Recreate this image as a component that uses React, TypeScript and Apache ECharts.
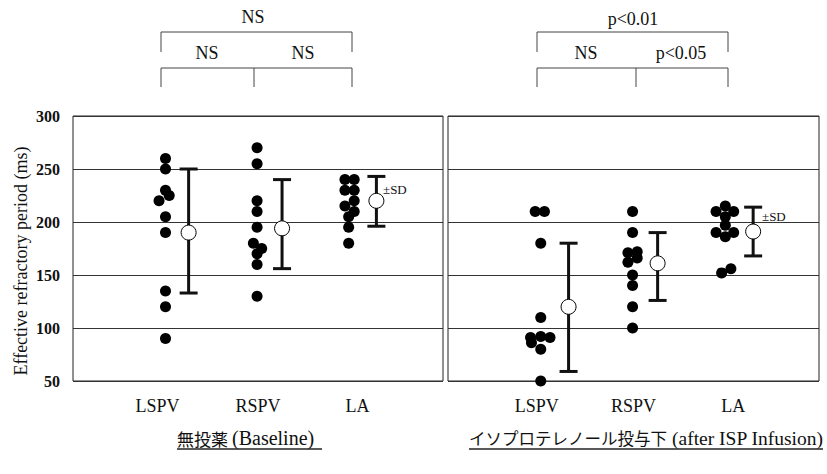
import React, { useEffect, useRef } from 'react';
import * as echarts from 'echarts';

// ---------- data ----------
const categories = ['LSPV', 'RSPV', 'LA'];
const categoryPositions = [1, 2, 3];

// Baseline (無投薬) individual values (ms) and horizontal jitter (category units)
const baseLSPV = [260, 250, 230, 220, 225, 205, 190, 135, 120, 90];
const baseLSPVJitter = [0, 0, 0, -0.07, 0.04, 0, 0, 0, 0, 0];
const baseRSPV = [270, 255, 220, 210, 195, 180, 175, 170, 160, 130];
const baseRSPVJitter = [-0.01, -0.01, -0.01, -0.01, -0.01, -0.05, 0.04, -0.01, -0.01, -0.01];
const baseLA = [240, 240, 230, 230, 220, 215, 210, 205, 195, 180];
const baseLAJitter = [-0.06, 0.04, -0.06, 0.04, 0.04, -0.06, 0.04, -0.02, -0.02, -0.02];

const baseMean = [190, 194, 220];
const baseSDLow = [133, 156, 196];
const baseSDHigh = [250, 240, 243];
const baseMeanOffset = [0.25, 0.26, 0.28];

// After ISP infusion (イソプロテレノール投与下)
const ispLSPV = [210, 210, 180, 110, 91, 92, 91, 86, 80, 50];
const ispLSPVJitter = [-0.06, 0.04, 0, 0, -0.11, 0, 0.1, -0.1, 0, 0];
const ispRSPV = [210, 190, 171, 172, 162, 166, 150, 140, 120, 100];
const ispRSPVJitter = [-0.01, -0.01, -0.06, 0.04, -0.06, 0.04, -0.01, -0.01, -0.01, -0.01];
const ispLA = [215, 210, 210, 205, 197, 190, 190, 186, 152, 156];
const ispLAJitter = [-0.01, -0.11, 0.08, -0.01, -0.01, -0.11, 0.08, -0.01, -0.05, 0.05];

const ispMean = [120, 161, 191];
const ispSDLow = [59, 126, 168];
const ispSDHigh = [180, 190, 214];
const ispMeanOffset = [0.3, 0.26, 0.29];

const yMin = 50;
const yMax = 300;
const yInterval = 50;

const yAxisName = 'Effective refractory period (ms)';
const baselineTitleJP = '無投薬';
const baselineTitleEN = '(Baseline)';
const ispTitleJP = 'イソプロテレノール投与下';
const ispTitleEN = '(after ISP Infusion)';
const sdLabel = '±SD';

// ---------- helpers ----------
const SERIF = 'Liberation Serif';
const CJK = 'Noto Sans CJK JP';

function buildDots(values: number[][], jitter: number[][]) {
  const out: number[][] = [];
  values.forEach((vals, c) => {
    vals.forEach((v, i) => out.push([categoryPositions[c] + jitter[c][i], v]));
  });
  return out;
}

function buildMeans(mean: number[], offset: number[]) {
  return mean.map((m, c) => [categoryPositions[c] + offset[c], m]);
}

function buildSD(low: number[], high: number[], offset: number[]) {
  return low.map((l, c) => [categoryPositions[c] + offset[c], l, high[c]]);
}

function errorBarRender(params: any, api: any) {
  const x = api.value(0);
  const lo = api.coord([x, api.value(1)]);
  const hi = api.coord([x, api.value(2)]);
  const hw = 9;
  const st = { stroke: '#111', lineWidth: 3 };
  return {
    type: 'group',
    children: [
      { type: 'line', shape: { x1: lo[0], y1: lo[1], x2: hi[0], y2: hi[1] }, style: st },
      { type: 'line', shape: { x1: lo[0] - hw, y1: lo[1], x2: lo[0] + hw, y2: lo[1] }, style: st },
      { type: 'line', shape: { x1: hi[0] - hw, y1: hi[1], x2: hi[0] + hw, y2: hi[1] }, style: st },
    ],
  };
}

function line(x1: number, y1: number, x2: number, y2: number, color = '#444', w = 1) {
  return { type: 'line', shape: { x1, y1, x2, y2 }, style: { stroke: color, lineWidth: w }, silent: true };
}

function text(str: string, x: number, y: number, opts: any = {}) {
  return {
    type: 'text',
    x,
    y,
    silent: true,
    rotation: opts.rotation || 0,
    style: {
      text: str,
      fill: '#111',
      fontFamily: opts.family || SERIF,
      fontSize: opts.size || 18,
      fontWeight: 'normal',
      align: opts.align || 'center',
      verticalAlign: 'middle',
    },
  };
}

// label box paddings (visual nudges of the category names)
function xAxisFor(gridIndex: number, padL: number[], padR: number[]) {
  const rich: any = {};
  categories.forEach((_, i) => {
    rich['c' + i] = {
      fontFamily: SERIF,
      fontSize: 18,
      color: '#111',
      padding: [0, padR[i], 0, padL[i]],
    };
  });
  return {
    type: 'value',
    gridIndex,
    min: 0,
    max: 4,
    interval: 1,
    axisLine: { show: false },
    axisTick: { show: false },
    splitLine: { show: false },
    axisLabel: {
      fontFamily: SERIF,
      fontSize: 18,
      color: '#111',
      margin: 16,
      rich,
      formatter: (v: number) => {
        const idx = categoryPositions.indexOf(v);
        return idx >= 0 ? `{c${idx}|${categories[idx]}}` : '';
      },
    },
  };
}

export default function App() {
  const ref = useRef<HTMLDivElement>(null);

  useEffect(() => {
    if (!ref.current) return;
    const chart = echarts.init(ref.current, undefined, { renderer: 'svg' });

    const yAxisCommon = {
      type: 'value',
      min: yMin,
      max: yMax,
      interval: yInterval,
      axisLine: { show: false },
      axisTick: { show: false },
      splitLine: { show: true, lineStyle: { color: '#333', width: 1 } },
    };

    const dotStyle = { color: '#000', opacity: 1 };
    const meanStyle = { color: '#fff', borderColor: '#000', borderWidth: 1, opacity: 1 };

    const option: any = {
      animation: false,
      backgroundColor: '#fff',
      grid: [
        { left: 73, top: 116, width: 370, height: 265, show: true, borderColor: '#222', borderWidth: 1, outerBoundsMode: 'none' },
        { left: 448, top: 116, width: 371, height: 265, show: true, borderColor: '#222', borderWidth: 1, outerBoundsMode: 'none' },
      ],
      xAxis: [
        xAxisFor(0, [0, 0, 14], [16, 0, 0]),
        xAxisFor(1, [0, 0, 14], [8, 0, 0]),
      ],
      yAxis: [
        {
          ...yAxisCommon,
          gridIndex: 0,
          axisLabel: { fontFamily: SERIF, fontSize: 16, fontWeight: 'bold', color: '#111', margin: 13 },
        },
        { ...yAxisCommon, gridIndex: 1, axisLabel: { show: false } },
      ],
      series: [
        {
          type: 'scatter',
          xAxisIndex: 0,
          yAxisIndex: 0,
          symbolSize: 11,
          clip: false,
          itemStyle: dotStyle,
          z: 3,
          data: buildDots([baseLSPV, baseRSPV, baseLA], [baseLSPVJitter, baseRSPVJitter, baseLAJitter]),
        },
        {
          type: 'custom',
          xAxisIndex: 0,
          yAxisIndex: 0,
          renderItem: errorBarRender,
          encode: { x: 0, y: [1, 2] },
          z: 4,
          data: buildSD(baseSDLow, baseSDHigh, baseMeanOffset),
        },
        {
          type: 'scatter',
          xAxisIndex: 0,
          yAxisIndex: 0,
          symbolSize: 15,
          itemStyle: meanStyle,
          z: 5,
          data: buildMeans(baseMean, baseMeanOffset),
        },
        {
          type: 'scatter',
          xAxisIndex: 1,
          yAxisIndex: 1,
          symbolSize: 11,
          clip: false,
          itemStyle: dotStyle,
          z: 3,
          data: buildDots([ispLSPV, ispRSPV, ispLA], [ispLSPVJitter, ispRSPVJitter, ispLAJitter]),
        },
        {
          type: 'custom',
          xAxisIndex: 1,
          yAxisIndex: 1,
          renderItem: errorBarRender,
          encode: { x: 0, y: [1, 2] },
          z: 4,
          data: buildSD(ispSDLow, ispSDHigh, ispMeanOffset),
        },
        {
          type: 'scatter',
          xAxisIndex: 1,
          yAxisIndex: 1,
          symbolSize: 15,
          itemStyle: meanStyle,
          z: 5,
          data: buildMeans(ispMean, ispMeanOffset),
        },
      ],
      graphic: [
        // left brackets
        line(161, 32, 352, 32),
        line(161, 32, 161, 52),
        line(352, 32, 352, 52),
        line(161, 68, 352, 68),
        line(161, 68, 161, 87),
        line(254, 68, 254, 87),
        line(352, 68, 352, 87),
        text('NS', 253, 17),
        text('NS', 207, 53),
        text('NS', 303, 53),
        // right brackets
        line(537, 32, 728, 32),
        line(537, 32, 537, 52),
        line(728, 32, 728, 52),
        line(537, 68, 728, 68),
        line(537, 68, 537, 87),
        line(636, 68, 636, 87),
        line(728, 68, 728, 87),
        text('p<0.01', 633, 19),
        text('NS', 586, 53),
        text('p<0.05', 681, 53),
        // ±SD
        text(sdLabel, 383, 189, { align: 'left', size: 13 }),
        text(sdLabel, 762, 216, { align: 'left', size: 13 }),
        // y axis name
        text(yAxisName, 21, 261, { rotation: Math.PI / 2, size: 18 }),
        // subtitles
        text(baselineTitleJP, 228, 438, { align: 'right', family: CJK, size: 17 }),
        text(baselineTitleEN, 232, 438, { align: 'left', size: 20 }),
        line(177, 449, 322, 449, '#222', 1.5),
        text(ispTitleJP, 667, 438, { align: 'right', family: CJK, size: 16.5 }),
        text(ispTitleEN, 672, 438, { align: 'left', size: 19.5 }),
        line(469, 449, 823, 449, '#222', 1.5),
      ],
    };

    chart.setOption(option);
    return () => chart.dispose();
  }, []);

  return (
    <div
      ref={ref}
      style={{ position: 'fixed', left: 0, top: 0, width: 827, height: 474, background: '#fff' }}
    />
  );
}
